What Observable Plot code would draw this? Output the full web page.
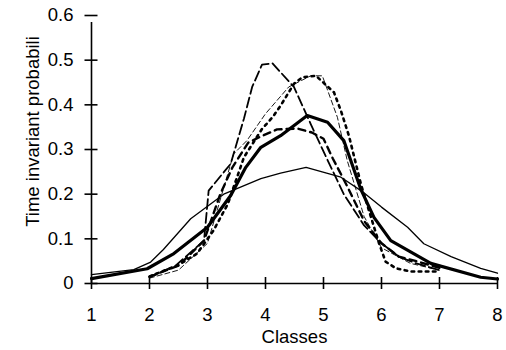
<!DOCTYPE html>
<html>
<head>
<meta charset="utf-8">
<script src="https://cdn.jsdelivr.net/npm/d3@7"></script>
<script src="https://cdn.jsdelivr.net/npm/@observablehq/plot@0.6"></script>
<style>
  html, body { margin: 0; padding: 0; background: #fff; }
  #chart { width: 506px; height: 350px; }
</style>
</head>
<body>
<div id="chart"></div>
<script>
// Tick labels
const xTicks = [1, 2, 3, 4, 5, 6, 7, 8];
const yTicks = [0, 0.1, 0.2, 0.3, 0.4, 0.5, 0.6];
const xLabel = "Classes";
const yLabel = "Time invariant probabili";

// Series 1: thin solid
const thinX = [1, 1.73, 2.02, 2.24, 2.71, 3.28, 3.92, 4.26, 4.7, 5.3, 5.69, 6.0, 6.45, 6.73, 7.2, 7.71, 8];
const thinY = [0.02, 0.031, 0.048, 0.076, 0.145, 0.2, 0.235, 0.247, 0.26, 0.238, 0.204, 0.171, 0.126, 0.089, 0.06, 0.034, 0.023];

// Series 2: thick solid
const thickX = [1, 1.96, 2.42, 3.0, 3.4, 3.66, 3.92, 4.26, 4.72, 5.07, 5.35, 5.64, 5.87, 6.16, 6.85, 7.71, 8];
const thickY = [0.011, 0.033, 0.067, 0.126, 0.197, 0.26, 0.305, 0.331, 0.376, 0.361, 0.32, 0.212, 0.148, 0.096, 0.045, 0.014, 0.01];

// Series 3: long dash (peak ~0.49)
const longDashX = [2, 2.45, 2.94, 3.02, 3.4, 3.63, 3.77, 3.94, 4.12, 4.49, 4.78, 5.02, 5.35, 5.7, 6.0, 6.3, 6.6, 7];
const longDashY = [0.015, 0.04, 0.096, 0.208, 0.268, 0.37, 0.44, 0.49, 0.493, 0.44, 0.357, 0.29, 0.2, 0.13, 0.09, 0.06, 0.045, 0.03];

// Series 4: square dots (peak ~0.465)
const dotX = [2, 2.48, 2.82, 3.1, 3.35, 3.63, 3.94, 4.12, 4.26, 4.49, 4.64, 4.87, 5.18, 5.3, 5.44, 5.65, 5.96, 6.07, 6.25, 6.5, 7];
const dotY = [0.016, 0.04, 0.067, 0.118, 0.178, 0.283, 0.346, 0.372, 0.398, 0.447, 0.462, 0.465, 0.428, 0.387, 0.33, 0.22, 0.089, 0.049, 0.034, 0.027, 0.027];

// Series 5: thin dashed (flat top ~0.465)
const thinDashX = [2, 2.5, 3, 3.45, 3.68, 4.0, 4.4, 4.78, 4.98, 5.24, 5.41, 5.7, 6.0, 6.5, 7];
const thinDashY = [0.012, 0.03, 0.09, 0.29, 0.32, 0.38, 0.44, 0.465, 0.465, 0.372, 0.275, 0.15, 0.08, 0.045, 0.03];

// Series 6: thick dashed (plateau ~0.345)
const dashX = [2, 2.5, 2.94, 3.22, 3.43, 3.7, 3.9, 4.2, 4.55, 4.8, 5.0, 5.16, 5.4, 5.7, 6.0, 6.3, 6.6, 7];
const dashY = [0.015, 0.04, 0.096, 0.2, 0.26, 0.315, 0.328, 0.345, 0.347, 0.338, 0.324, 0.28, 0.22, 0.14, 0.09, 0.06, 0.05, 0.035];

const toRows = (xs, ys) => xs.map((x, i) => ({x, y: ys[i]}));

const font = "'Liberation Sans', Arial, Helvetica, sans-serif";
const fs = 18.5;

const chart = Plot.plot({
  width: 506,
  height: 350,
  marginLeft: 91,
  marginRight: 9,
  marginTop: 15,
  marginBottom: 67,
  style: {fontFamily: font, fontSize: fs + "px", background: "#fff", color: "#000"},
  x: {domain: [1, 8], axis: null},
  y: {domain: [0, 0.6], axis: null},
  marks: [
    Plot.line(toRows(thinX, thinY), {x: "x", y: "y", stroke: "#000", strokeWidth: 1.3}),
    Plot.line(toRows(thinDashX, thinDashY), {x: "x", y: "y", stroke: "#000", strokeWidth: 0.9, strokeDasharray: "5,3"}),
    Plot.line(toRows(longDashX, longDashY), {x: "x", y: "y", stroke: "#000", strokeWidth: 1.8, strokeDasharray: "10,4"}),
    Plot.line(toRows(dashX, dashY), {x: "x", y: "y", stroke: "#000", strokeWidth: 2.4, strokeDasharray: "7,5"}),
    Plot.line(toRows(dotX, dotY), {x: "x", y: "y", stroke: "#000", strokeWidth: 2.6, strokeDasharray: "2.6,4.5"}),
    Plot.line(toRows(thickX, thickY), {x: "x", y: "y", stroke: "#000", strokeWidth: 3.2}),
    // axis lines
    Plot.ruleY([0], {stroke: "#000", strokeWidth: 1.6}),
    Plot.ruleX([1], {stroke: "#000", strokeWidth: 1.6, y1: 0, y2: 0.6, insetBottom: -7}),
    // crossing ticks
    Plot.axisY({ticks: yTicks, tickSize: 13, dx: 6.5, tickFormat: () => "", strokeWidth: 1.6, label: null}),
    Plot.axisX({ticks: xTicks, tickSize: 12, dy: -6, tickFormat: () => "", strokeWidth: 1.6, label: null}),
    // tick labels
    Plot.axisY({ticks: yTicks, tickSize: 0, tickPadding: 18, tickFormat: d => d === 0 ? "0" : d3.format(".1f")(d), fontSize: fs, label: null}),
    Plot.axisX({ticks: xTicks, tickSize: 0, tickPadding: 24, tickFormat: d => String(d), fontSize: fs, label: null}),
    // axis titles
    Plot.text([xLabel], {frameAnchor: "bottom", dy: 54, fontSize: fs, lineAnchor: "middle", textAnchor: "middle"}),
    Plot.text([yLabel], {frameAnchor: "left", rotate: -90, dx: -58, dy: -18, fontSize: fs, lineAnchor: "middle", textAnchor: "middle"})
  ]
});

document.getElementById("chart").appendChild(chart);
</script>
</body>
</html>
